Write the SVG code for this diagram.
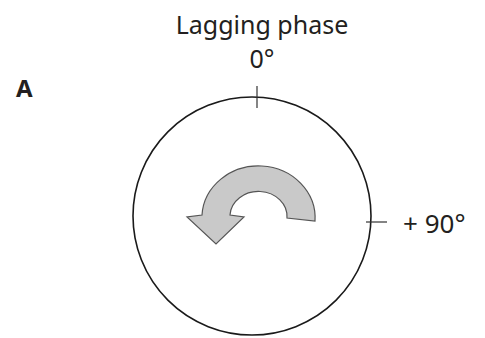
<svg xmlns="http://www.w3.org/2000/svg" width="485" height="338" viewBox="0 0 485 338">
<style>
.t{font-family:"Noto Sans",sans-serif;font-size:25px;fill:#231f20}
.tick{stroke:#333;stroke-width:1.2}
</style>
<rect width="485" height="338" fill="#fff"/>
<g id="label-A"><text x="16" y="97" class="t" style="font-weight:bold;font-size:24px">A</text></g>
<g id="title"><text x="262" y="34" class="t" text-anchor="middle">Lagging phase</text>
<text x="262" y="68" class="t" text-anchor="middle">0°</text></g>
<g id="dial">
<circle cx="252" cy="216" r="119" fill="none" stroke="#1a1a1a" stroke-width="1.6"/>
<line class="tick" x1="257" y1="86" x2="257" y2="108"/>
<line class="tick" x1="366" y1="222" x2="387" y2="222"/>
</g>
<g id="label-90"><text x="403" y="233" class="t" style="font-size:26px">+ 90°</text></g>
<g id="arrow">
<path d="M 287 218 A 28.5 25 0 0 0 230 215 L 244 217 L 216 244 L 187 217 L 202 215 A 56.5 52 0 0 1 315 221 Z" fill="#c9c9c9" stroke="#555" stroke-width="1.2" stroke-linejoin="miter"/>
</g>
</svg>
